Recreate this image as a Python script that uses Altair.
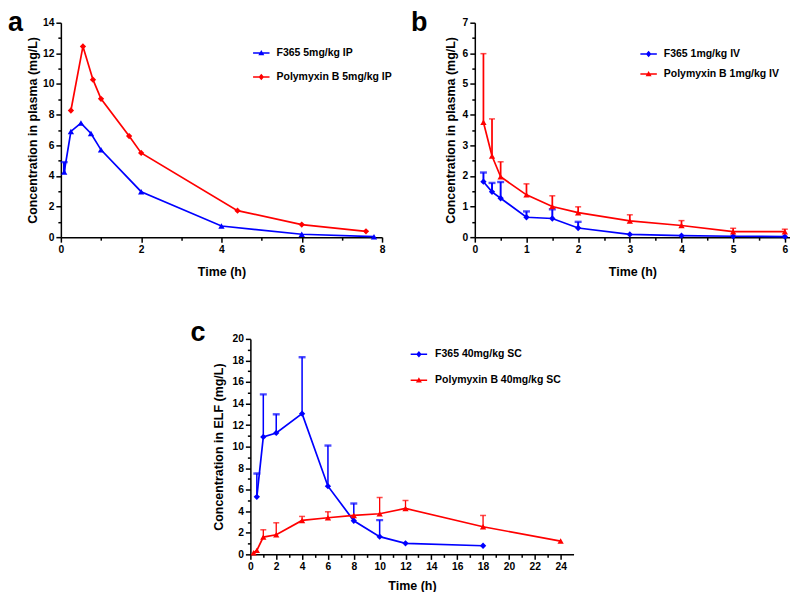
import altair as alt
import pandas as pd

FONT = "Liberation Sans"
BLUE = "#0000ff"
RED = "#ff0000"

# ---------------- panel a : plasma, 5 mg/kg IP ----------------
A_SERIES = ["F365 5mg/kg IP", "Polymyxin B 5mg/kg IP"]
A_F_T = [0.083, 0.25, 0.5, 0.75, 1, 2, 4, 6, 7.8]
A_F_Y = [4.25, 6.9, 7.45, 6.77, 5.7, 2.97, 0.73, 0.19, 0.03]
A_F_UP = [4.9, None, None, None, None, None, None, None, None]
A_P_T = [0.25, 0.55, 0.8, 1, 1.7, 2, 4.4, 6, 7.6]
A_P_Y = [8.27, 12.45, 10.28, 9.03, 6.6, 5.5, 1.73, 0.82, 0.38]
A_P_UP = [None, None, None, None, None, None, None, None, None]
A_XTICKS = [0, 1, 2, 3, 4, 5, 6, 7, 8]
A_YTICKS = [0, 1, 2, 3, 4, 5, 6, 7, 8, 9, 10, 11, 12, 13, 14]

# ---------------- panel b : plasma, 1 mg/kg IV ----------------
B_SERIES = ["F365 1mg/kg IV", "Polymyxin B 1mg/kg IV"]
B_F_T = [0.167, 0.333, 0.5, 1, 1.5, 2, 3, 4, 5, 6]
B_F_Y = [1.81, 1.48, 1.27, 0.65, 0.61, 0.30, 0.09, 0.05, 0.03, 0.02]
B_F_UP = [2.11, 1.77, 1.80, 0.84, 0.91, 0.50, None, None, None, None]
B_P_T = [0.167, 0.333, 0.5, 1, 1.5, 2, 3, 4, 5, 6]
B_P_Y = [3.75, 2.65, 1.97, 1.38, 1.00, 0.80, 0.53, 0.38, 0.18, 0.18]
B_P_UP = [5.99, 3.86, 2.46, 1.74, 1.35, 0.99, 0.73, 0.54, 0.29, 0.26]
B_XTICKS = [0, 0.5, 1, 1.5, 2, 2.5, 3, 3.5, 4, 4.5, 5, 5.5, 6]
B_YTICKS = [0, 0.5, 1, 1.5, 2, 2.5, 3, 3.5, 4, 4.5, 5, 5.5, 6, 6.5, 7]

# ---------------- panel c : ELF, 40 mg/kg SC ----------------
C_SERIES = ["F365 40mg/kg SC", "Polymyxin B 40mg/kg SC"]
C_F_T = [0.5, 1, 2, 4, 6, 8, 10, 12, 18]
C_F_Y = [5.34, 10.9, 11.27, 13.06, 6.33, 3.12, 1.64, 1.02, 0.80]
C_F_UP = [7.5, 14.85, 13.0, 18.3, 10.1, 4.72, 3.18, None, None]
C_P_T = [0.25, 0.5, 1, 2, 4, 6, 8, 10, 12, 18, 24]
C_P_Y = [0.15, 0.37, 1.6, 1.82, 3.15, 3.40, 3.61, 3.77, 4.26, 2.56, 1.23]
C_P_UP = [None, None, 2.28, 2.93, 3.52, 3.95, None, 5.28, 5.0, 3.61, None]
C_XTICKS = list(range(0, 25))
C_YTICKS = list(range(0, 21))

# marker shapes (plot) and legend symbols (line + marker, all filled)
TRI = "triangle-up"
DIA = "diamond"
TRI_LEG = "M-1.65,-0.15H1.65V0.15H-1.65ZM0,-0.6L0.6,0.45L-0.6,0.45Z"
DIA_LEG = "M-1.65,-0.15H1.65V0.15H-1.65ZM0,-0.65L0.55,0L0,0.65L-0.55,0Z"


def make_df(series, t1, y1, u1, t2, y2, u2):
    rows = []
    for s, ts, ys, us in ((series[0], t1, y1, u1), (series[1], t2, y2, u2)):
        for t, y, u in zip(ts, ys, us):
            rows.append({"series": s, "t": t, "y": y, "up": u})
    return pd.DataFrame(rows)


def cond(major):
    return f"abs(datum.value/{major} - round(datum.value/{major})) < 0.001"


def make_axis(ticks, major, title_pad):
    return alt.Axis(
        values=ticks,
        tickCount=200,
        labelExpr=f"{cond(major)} ? format(datum.value, 'd') : ''",
        tickSize={"condition": {"test": cond(major), "value": 5}, "value": 3},
        grid=False,
        domainColor="black", domainWidth=1.5,
        tickColor="black", tickWidth=1.5,
        labelFont=FONT, labelFontSize=10.3, labelFontWeight="bold", labelColor="black",
        labelPadding=2, labelFlush=False, labelOverlap=False,
        titleFont=FONT, titleFontSize=12.5, titleFontWeight="bold", titleColor="black",
        titlePadding=title_pad,
    )


def panel(df, series, shapes, leg_shapes, xdom, xticks, xmajor, ydom, yticks, ymajor,
          ytitle, width, height, label, label_dx, label_dy, leg_x, leg_ys,
          label_offset, ytitle_pad, xtitle_pad):
    x = alt.X("t:Q", scale=alt.Scale(domain=xdom, nice=False, zero=False),
              axis=make_axis(xticks, xmajor, xtitle_pad), title="Time (h)")
    y = alt.Y("y:Q", scale=alt.Scale(domain=ydom, nice=False),
              axis=make_axis(yticks, ymajor, ytitle_pad), title=ytitle)
    cscale = alt.Scale(domain=series, range=[BLUE, RED])
    color = alt.Color("series:N", scale=cscale, legend=None)
    base = alt.Chart(df)
    err = base.transform_filter("isValid(datum.up)").mark_rule().encode(
        x=x, y=y, y2="up:Q", color=color,
        strokeWidth=alt.StrokeWidth("series:N", scale=alt.Scale(domain=series, range=[2.4, 1.3]),
                                    legend=None))
    caps = []
    for k, (thick, wid) in enumerate([(2.4, 7), (1.5, 6)]):
        caps.append(
            base.transform_filter(
                f"isValid(datum.up) && datum.series === '{series[k]}'"
            ).mark_tick(orient="horizontal", size=wid, thickness=thick).encode(
                x=x, y=alt.Y("up:Q"), color=color)
        )
    line = base.mark_line(strokeWidth=1.7).encode(x=x, y=y, color=color)
    pts = base.mark_point(filled=True, size=40, opacity=1).encode(
        x=x, y=y, color=color,
        shape=alt.Shape("series:N", scale=alt.Scale(domain=series, range=shapes), legend=None))
    legs = []
    for k, col in enumerate([BLUE, RED]):
        lg = alt.Legend(
            orient="none", legendX=leg_x, legendY=leg_ys[k], title=None,
            labelFont=FONT, labelFontSize=10.5, labelFontWeight="bold", labelColor="black",
            symbolSize=100, labelOffset=label_offset, padding=0,
            symbolFillColor=col, symbolStrokeColor=col, symbolStrokeWidth=0,
        )
        legs.append(
            base.transform_filter("false").mark_point(filled=True, color=col, opacity=1).encode(
                x=x, y=y,
                shape=alt.Shape("series:N",
                                scale=alt.Scale(domain=[series[k]], range=[leg_shapes[k]]),
                                legend=lg))
        )
    return alt.layer(err, *caps, line, pts, *legs).resolve_scale(shape="independent").properties(
        width=width, height=height,
        title=alt.TitleParams(text=label, anchor="start", frame="group", orient="top",
                              fontSize=27, font=FONT, fontWeight="bold", color="black",
                              baseline="alphabetic", offset=0, dx=label_dx, dy=label_dy),
    )


dfa = make_df(A_SERIES, A_F_T, A_F_Y, A_F_UP, A_P_T, A_P_Y, A_P_UP)
dfb = make_df(B_SERIES, B_F_T, B_F_Y, B_F_UP, B_P_T, B_P_Y, B_P_UP)
dfc = make_df(C_SERIES, C_F_T, C_F_Y, C_F_UP, C_P_T, C_P_Y, C_P_UP)

pa = panel(dfa, A_SERIES, [TRI, DIA], [TRI_LEG, DIA_LEG], [0, 8], A_XTICKS, 2,
           [0, 14], A_YTICKS, 2, "Concentration in plasma (mg/L)", 322, 215,
           "a", -53, 40, 195.7, [25.2, 49.2], 10, 3, 11)
pb = panel(dfb, B_SERIES, [DIA, TRI], [DIA_LEG, TRI_LEG], [0, 6.1], B_XTICKS, 1,
           [0, 7], B_YTICKS, 1, "Concentration in plasma (mg/L)", 316, 215,
           "b", -64, 40, 169, [26.2, 46.2], 10, 5, 11)
pc = panel(dfc, C_SERIES, [DIA, TRI], [DIA_LEG, TRI_LEG], [0, 25], C_XTICKS, 2,
           [0, 20], C_YTICKS, 2, "Concentration in ELF (mg/L)", 324, 216,
           "c", -60, 34, 163.7, [10.2, 36.2], 11, 6, 8)

spacer = alt.Chart(pd.DataFrame({"v": [0]})).mark_point(opacity=0, size=1).encode(
    x=alt.X("v:Q", axis=None), y=alt.Y("v:Q", axis=None)).properties(width=120, height=10)

top = alt.hconcat(pa, pb, spacing=18)
bottom = alt.hconcat(spacer, pc, spacing=10)
chart = alt.vconcat(top, bottom, spacing=41).properties(
    padding={"left": 0, "top": 0, "right": 0, "bottom": 0}
).configure_view(stroke=None)

chart.save("out.html", embed_options={"renderer": "svg", "actions": False})
